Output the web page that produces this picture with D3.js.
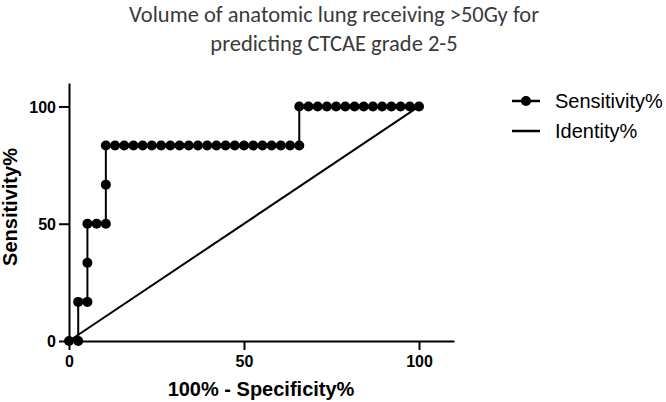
<!DOCTYPE html>
<html>
<head>
<meta charset="utf-8">
<script src="https://cdn.jsdelivr.net/npm/d3@7"></script>
<style>
  body { margin: 0; background: #fff; }
</style>
</head>
<body>
<div id="canvas"></div>
<script>
// ROC points (100% - specificity, sensitivity)
const fpr = [0, 2.63, 2.63, 5.26, 5.26, 5.26, 7.89, 10.53, 10.53, 10.53,
  13.16, 15.79, 18.42, 21.05, 23.68, 26.32, 28.95, 31.58, 34.21, 36.84,
  39.47, 42.11, 44.74, 47.37, 50.0, 52.63, 55.26, 57.89, 60.53, 63.16, 65.79,
  65.79, 68.42, 71.05, 73.68, 76.32, 78.95, 81.58, 84.21, 86.84, 89.47,
  92.11, 94.74, 97.37, 100];
const sens = [0, 0, 16.67, 16.67, 33.33, 50, 50, 50, 66.67, 83.33,
  83.33, 83.33, 83.33, 83.33, 83.33, 83.33, 83.33, 83.33, 83.33, 83.33,
  83.33, 83.33, 83.33, 83.33, 83.33, 83.33, 83.33, 83.33, 83.33, 83.33, 83.33,
  100, 100, 100, 100, 100, 100, 100, 100, 100, 100,
  100, 100, 100, 100];
const identityX = [0, 100];
const identityY = [0, 100];
const ticks = [0, 50, 100];
const titleLines = ["Volume of anatomic lung receiving >50Gy for", "predicting CTCAE grade 2-5"];
const seriesNames = ["Sensitivity%", "Identity%"];

const width = 666, height = 402;
const svg = d3.select("#canvas").append("svg")
  .attr("width", width).attr("height", height);

const x = d3.scaleLinear().domain([0, 110]).range([69, 454]);
const y = d3.scaleLinear().domain([0, 110]).range([341, 83]);

// title
svg.append("g").selectAll("text").data(titleLines).enter().append("text")
  .attr("x", 334)
  .attr("y", (d, i) => 22 + i * 29)
  .attr("text-anchor", "middle")
  .style("font-family", "Carlito, Calibri, 'Open Sans', sans-serif")
  .style("font-size", "22.5px")
  .style("fill", "#3a3a3a")
  .text(d => d);

// axes
const xAxis = svg.append("g")
  .attr("transform", `translate(0,${y(0)})`)
  .call(d3.axisBottom(x).tickValues(ticks).tickSize(9).tickSizeOuter(0).tickPadding(6));
const yAxis = svg.append("g")
  .attr("transform", `translate(${x(0)},0)`)
  .call(d3.axisLeft(y).tickValues(ticks).tickSize(10).tickSizeOuter(0).tickPadding(3));

[xAxis, yAxis].forEach(a => {
  a.select(".domain").attr("stroke", "#000").attr("stroke-width", 2);
  a.selectAll(".tick line").attr("stroke", "#000").attr("stroke-width", 2);
  a.selectAll(".tick text")
    .style("font-family", "Arial, 'Liberation Sans', sans-serif")
    .style("font-weight", "bold")
    .style("font-size", "16px")
    .attr("fill", "#000");
});
yAxis.selectAll(".tick text").attr("dy", "0.35em");

// axis titles
svg.append("text")
  .attr("x", 261).attr("y", 396)
  .attr("text-anchor", "middle")
  .style("font-family", "Arial, 'Liberation Sans', sans-serif")
  .style("font-weight", "bold").style("font-size", "20px")
  .text("100% - Specificity%");
svg.append("text")
  .attr("transform", "translate(17,207) rotate(-90)")
  .attr("text-anchor", "middle")
  .style("font-family", "Arial, 'Liberation Sans', sans-serif")
  .style("font-weight", "bold").style("font-size", "20px")
  .text("Sensitivity%");

// identity line
const idData = identityX.map((d, i) => ({ x: d, y: identityY[i] }));
svg.append("path").datum(idData)
  .attr("fill", "none").attr("stroke", "#000").attr("stroke-width", 2)
  .attr("d", d3.line().x(d => x(d.x)).y(d => y(d.y)));

// ROC curve
const roc = fpr.map((d, i) => ({ x: d, y: sens[i] }));
svg.append("path").datum(roc)
  .attr("fill", "none").attr("stroke", "#000").attr("stroke-width", 2)
  .attr("d", d3.line().x(d => x(d.x)).y(d => y(d.y)));
svg.append("g").selectAll("circle").data(roc).enter().append("circle")
  .attr("cx", d => x(d.x)).attr("cy", d => y(d.y))
  .attr("r", 5).attr("fill", "#000");

// legend
const legend = svg.append("g");
seriesNames.forEach((name, i) => {
  const ly = 101 + i * 30;
  legend.append("line")
    .attr("x1", 512).attr("x2", 540).attr("y1", ly).attr("y2", ly)
    .attr("stroke", "#000").attr("stroke-width", 2.5);
  if (i === 0) {
    legend.append("circle").attr("cx", 526).attr("cy", ly).attr("r", 5).attr("fill", "#000");
  }
  legend.append("text")
    .attr("x", 555).attr("y", ly).attr("dy", "0.35em")
    .style("font-family", "Arial, 'Liberation Sans', sans-serif")
    .style("font-size", "20px")
    .text(name);
});
</script>
</body>
</html>
